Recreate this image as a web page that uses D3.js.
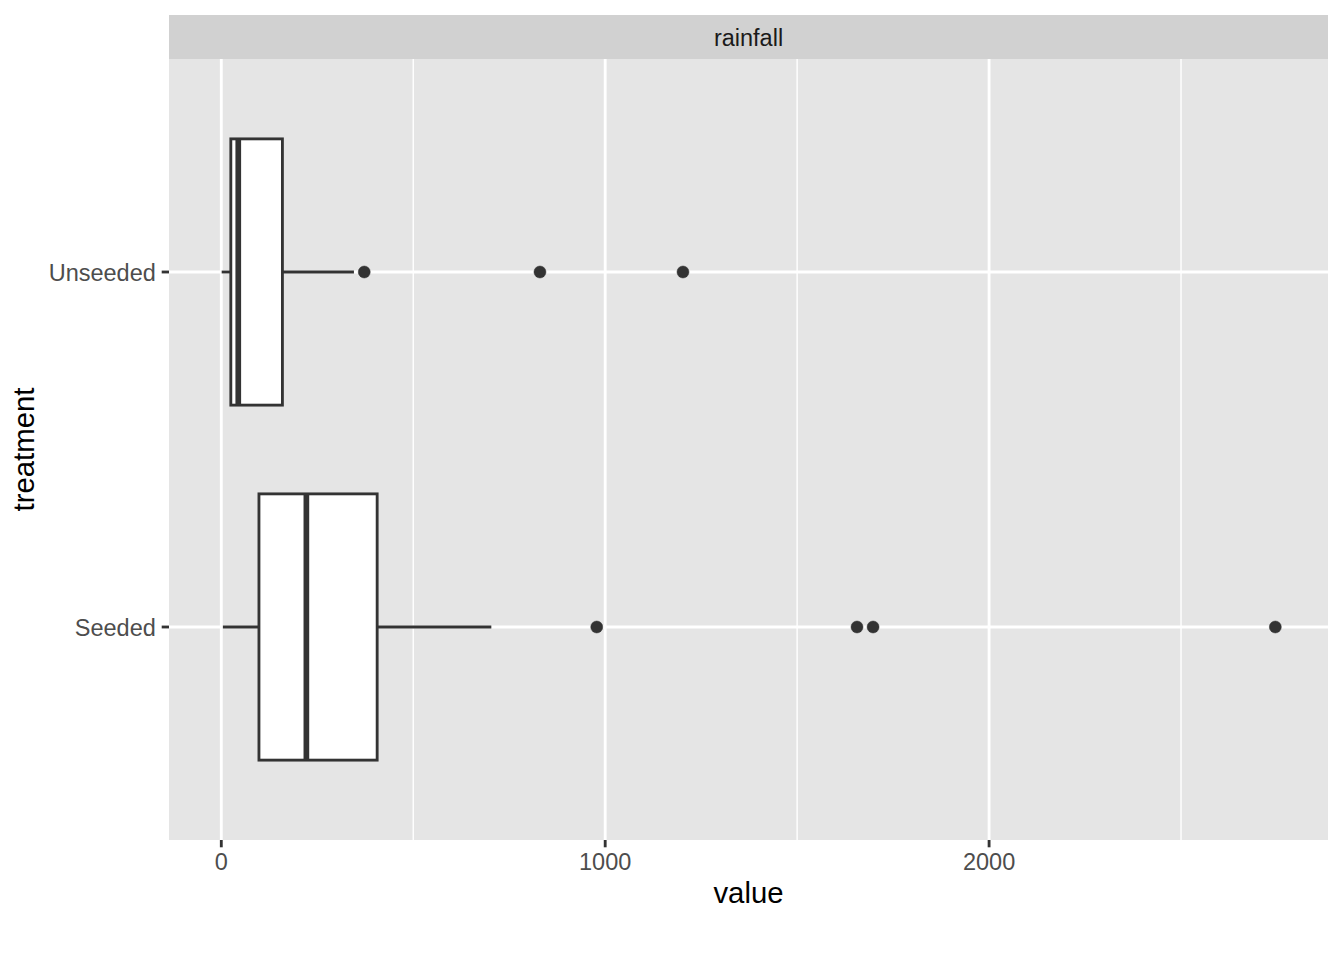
<!DOCTYPE html>
<html>
<head>
<meta charset="utf-8">
<script src="https://cdn.jsdelivr.net/npm/d3@7"></script>
<style>
  body { margin: 0; background: #fff; }
  svg { display: block; }
  text { font-family: "Liberation Sans", Arial, Helvetica, sans-serif; }
</style>
</head>
<body>
<svg id="chart" width="1344" height="960"></svg>
<script>
// ---- data (box summaries) ----
const categories = ["Seeded", "Unseeded"];
const whiskerLow = [4.1, 1.0];
const q1 = [98.1, 24.8];
const median = [221.6, 44.2];
const q3 = [406.0, 159.2];
const whiskerHigh = [703.4, 345.5];
const outliers = [[978.0, 1656.0, 1697.8, 2745.6], [372.4, 830.1, 1202.6]];
const xTicks = [0, 1000, 2000];
const xMinor = [500, 1500, 2500];
const facetLabel = "rainfall";
const xTitle = "value";
const yTitle = "treatment";

// ---- layout ----
const svg = d3.select("#chart");
const panel = { left: 169, right: 1328, top: 59, bottom: 840 };
const strip = { top: 15, bottom: 59 };

const dataMin = d3.min(whiskerLow);
const dataMax = d3.max(outliers.flat());
const pad = (dataMax - dataMin) * 0.05;
const x = d3.scaleLinear().domain([dataMin - pad, dataMax + pad]).range([panel.left, panel.right]);
const yCat = d3.scalePoint().domain(categories).range([panel.bottom, panel.top]).padding(0.6 / 1.0);
// discrete scale: positions at 1..n with 0.6 expansion
const y = d3.scaleLinear().domain([0.4, categories.length + 0.6]).range([panel.bottom, panel.top]);
const boxHalf = (y(0) - y(0.375));

const lw = 2.84;

// panel background
svg.append("rect").attr("x", panel.left).attr("y", panel.top)
  .attr("width", panel.right - panel.left).attr("height", panel.bottom - panel.top)
  .attr("fill", "#E5E5E5");

// minor grid
svg.append("g").selectAll("line").data(xMinor).join("line")
  .attr("x1", d => x(d)).attr("x2", d => x(d))
  .attr("y1", panel.top).attr("y2", panel.bottom)
  .attr("stroke", "#fff").attr("stroke-width", lw / 2);
// major grid
svg.append("g").selectAll("line").data(xTicks).join("line")
  .attr("x1", d => x(d)).attr("x2", d => x(d))
  .attr("y1", panel.top).attr("y2", panel.bottom)
  .attr("stroke", "#fff").attr("stroke-width", lw);
svg.append("g").selectAll("line").data(categories).join("line")
  .attr("x1", panel.left).attr("x2", panel.right)
  .attr("y1", (d, i) => y(i + 1)).attr("y2", (d, i) => y(i + 1))
  .attr("stroke", "#fff").attr("stroke-width", lw);

// strip
svg.append("rect").attr("x", panel.left).attr("y", strip.top)
  .attr("width", panel.right - panel.left).attr("height", strip.bottom - strip.top)
  .attr("fill", "#D1D1D1");
svg.append("text").attr("x", (panel.left + panel.right) / 2).attr("y", 46)
  .attr("text-anchor", "middle").attr("font-size", 23.5).attr("fill", "#1A1A1A")
  .text(facetLabel);

// boxes
const boxes = svg.append("g");
categories.forEach((c, i) => {
  const cy = y(i + 1);
  const g = boxes.append("g");
  g.append("line").attr("x1", x(whiskerLow[i])).attr("x2", x(q1[i]))
    .attr("y1", cy).attr("y2", cy).attr("stroke", "#333333").attr("stroke-width", lw);
  g.append("line").attr("x1", x(q3[i])).attr("x2", x(whiskerHigh[i]))
    .attr("y1", cy).attr("y2", cy).attr("stroke", "#333333").attr("stroke-width", lw);
  g.append("rect").attr("x", x(q1[i])).attr("y", cy - boxHalf)
    .attr("width", x(q3[i]) - x(q1[i])).attr("height", 2 * boxHalf)
    .attr("fill", "#fff").attr("stroke", "#333333").attr("stroke-width", lw);
  g.append("line").attr("x1", x(median[i])).attr("x2", x(median[i]))
    .attr("y1", cy - boxHalf).attr("y2", cy + boxHalf)
    .attr("stroke", "#333333").attr("stroke-width", lw * 2);
  g.selectAll("circle").data(outliers[i]).join("circle")
    .attr("cx", d => x(d)).attr("cy", cy).attr("r", 6)
    .attr("fill", "#333333").attr("stroke", "#333333").attr("stroke-width", 0.5);
});

// x axis ticks and labels
const xa = svg.append("g");
xa.selectAll("line").data(xTicks).join("line")
  .attr("x1", d => x(d)).attr("x2", d => x(d))
  .attr("y1", panel.bottom).attr("y2", panel.bottom + 7.3)
  .attr("stroke", "#333333").attr("stroke-width", lw);
xa.selectAll("text").data(xTicks).join("text")
  .attr("x", d => x(d)).attr("y", 870.3)
  .attr("text-anchor", "middle").attr("font-size", 23.5).attr("fill", "#4D4D4D")
  .text(d => d3.format("d")(d));

// y axis ticks and labels
const ya = svg.append("g");
ya.selectAll("line").data(categories).join("line")
  .attr("x1", panel.left - 7.3).attr("x2", panel.left)
  .attr("y1", (d, i) => y(i + 1)).attr("y2", (d, i) => y(i + 1))
  .attr("stroke", "#333333").attr("stroke-width", lw);
ya.selectAll("text").data(categories).join("text")
  .attr("x", panel.left - 7.3 - 5.9).attr("y", (d, i) => y(i + 1) + 9.3)
  .attr("text-anchor", "end").attr("font-size", 23.5).attr("fill", "#4D4D4D")
  .text(d => d);

// axis titles
svg.append("text").attr("x", (panel.left + panel.right) / 2).attr("y", 902.7)
  .attr("text-anchor", "middle").attr("font-size", 29.3).attr("fill", "#000")
  .text(xTitle);
svg.append("text")
  .attr("transform", `translate(34,${(panel.top + panel.bottom) / 2}) rotate(-90)`)
  .attr("text-anchor", "middle").attr("font-size", 29.3).attr("fill", "#000")
  .text(yTitle);
</script>
</body>
</html>
